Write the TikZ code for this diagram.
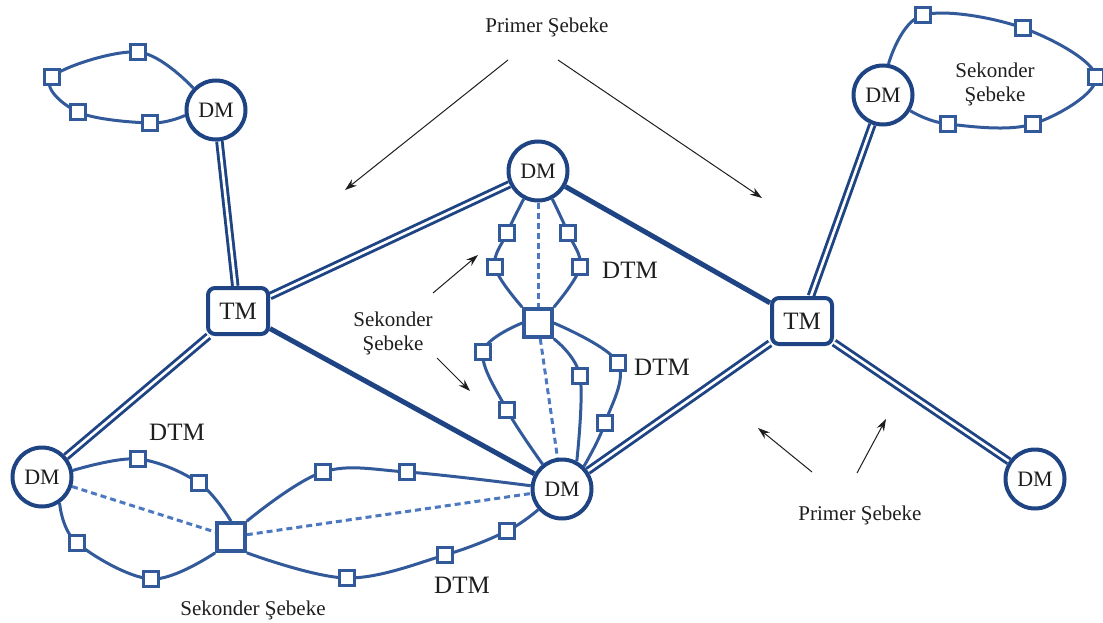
\documentclass[tikz,border=0pt]{standalone}
\usepackage{fontspec}
\setmainfont{Liberation Serif}
\usetikzlibrary{arrows.meta}
\pgfdeclarelayer{bg}
\pgfsetlayers{bg,main}
\definecolor{pblue}{RGB}{30,68,132}
\definecolor{sblue}{RGB}{50,90,154}
\definecolor{dblue}{RGB}{76,120,192}
\definecolor{ink}{RGB}{30,30,30}
\begin{document}
\begin{tikzpicture}[x=1pt,y=-1pt,
  dm/.style={circle, draw=pblue, line width=4pt, fill=white, minimum size=59pt, inner sep=0pt, text=ink, font=\fontsize{22}{22}\selectfont},
  tm/.style={rectangle, rounded corners=7pt, draw=pblue, line width=4pt, fill=white, minimum width=60pt, minimum height=46pt, text=ink, font=\fontsize{25}{25}\selectfont},
  bigsq/.style={rectangle, draw=sblue, line width=3.6pt, fill=white, minimum size=28pt, inner sep=0pt},
  smsq/.style={rectangle, draw=sblue, line width=3.2pt, fill=white, minimum size=15pt, inner sep=0pt},
  dbl/.style={draw=pblue, line width=2.9pt, double=white, double distance=2.6pt},
  thickone/.style={draw=pblue, line width=5pt},
  secl/.style={draw=sblue, line width=3pt},
  dsh/.style={draw=dblue, line width=3pt, dash pattern=on 6pt off 4pt},
  lbl/.style={font=\fontsize{21}{24}\selectfont, align=center, text=ink},
  dtm/.style={font=\fontsize{25}{25}\selectfont, text=ink},
  arr/.style={-{Stealth[length=12pt,width=8pt]}, line width=1pt, ink}
]
\useasboundingbox (0,0) rectangle (1103,623);

% main stations
\node[dm] (dmTL) at (216,110) {DM};
\node[dm] (dmC)  at (538,171) {DM};
\node[dm] (dmTR) at (883,95)  {DM};
\node[dm] (dmL)  at (42,477)  {DM};
\node[dm] (dmB)  at (562,489) {DM};
\node[dm] (dmBR) at (1035,479) {DM};
\node[tm] (tmL) at (238,311) {TM};
\node[tm] (tmR) at (802,321) {TM};
\node[bigsq] (sqC) at (538,323) {};
\node[bigsq] (sqB) at (231,537) {};

% distribution transformers
\foreach \n/\p in {a1/{(138,52)}, a2/{(52,77)}, a3/{(78,112)}, a4/{(150,123)},
  b1/{(923,15)}, b2/{(1023,28)}, b3/{(1096,77)}, b4/{(1033,124)}, b5/{(948,124)},
  c1/{(507,233)}, c2/{(495,267)}, c3/{(568,233)}, c4/{(580,267)},
  d1/{(483,352)}, d2/{(507,410)}, d3/{(580,376)}, d4/{(618,363)}, d5/{(605,423)},
  e1/{(138,459)}, e2/{(199,483)}, e3/{(77,543)}, e4/{(151,579)},
  f1/{(323,472)}, f2/{(407,472)}, f3/{(347,578)}, f4/{(445,555)}, f5/{(507,531)}}
  \node[smsq] (\n) at \p {};

% labels
\node[lbl] (pTop) at (547,27) {Primer Şebeke};
\node[lbl] (sTR) at (995,84) {Sekonder\\Şebeke};
\node[lbl] (sC) at (393,333) {Sekonder\\Şebeke};
\node[lbl] (pB) at (860,515) {Primer Şebeke};
\node[lbl] (sB) at (253,610) {Sekonder Şebeke};
\node[dtm] (t1) at (630,270) {DTM};
\node[dtm] (t2) at (662,367) {DTM};
\node[dtm] (t3) at (177,432) {DTM};
\node[dtm] (t4) at (462,585) {DTM};

% pointer arrows
\coordinate (r1s) at (508,60);  \coordinate (r1e) at (345,190);
\coordinate (r2s) at (558,60);  \coordinate (r2e) at (762,198);
\coordinate (r3s) at (433,293); \coordinate (r3e) at (478,255);
\coordinate (r4s) at (437,358); \coordinate (r4e) at (470,391);
\coordinate (r5s) at (812,472); \coordinate (r5e) at (758,428);
\coordinate (r6s) at (857,473); \coordinate (r6e) at (886,419);
\foreach \i in {1,...,6} \draw[arr] (r\i s) -- (r\i e);

\begin{pgfonlayer}{bg}
  % primary network
  \draw[dbl] (dmTL) -- (tmL);
  \draw[dbl] (tmL) -- (dmL);
  \draw[dbl] (tmL) -- (dmC);
  \draw[thickone] (tmL) -- (dmB);
  \draw[thickone] (dmC) -- (tmR);
  \draw[dbl] (tmR) -- (dmB);
  \draw[dbl] (tmR) -- (dmTR);
  \draw[dbl] (tmR) -- (dmBR);

  % secondary loops
  \draw[secl] plot[smooth, tension=0.6] coordinates {(dmTL.136) (a1.center) (a2.center) (a3.center) (a4.center) (dmTL.190)};
  \draw[secl] plot[smooth, tension=0.6] coordinates {(dmTR.80) (b1.center) (b2.center) (b3.center) (b4.center) (b5.center) (dmTR.-30)};
  \draw[secl] plot[smooth, tension=0.6] coordinates {(dmC.243) (c1.center) (c2.center) (sqC.north west)};
  \draw[secl] plot[smooth, tension=0.6] coordinates {(dmC.297) (c3.center) (c4.center) (sqC.north east)};
  \draw[secl] plot[smooth, tension=0.6] coordinates {(sqC.west) (d1.center) (d2.center) (dmB.128)};
  \draw[secl] plot[smooth, tension=0.6] coordinates {(sqC.south east) (d3.center) (dmB.62)};
  \draw[secl] plot[smooth, tension=0.6] coordinates {(sqC.east) (d4.center) (d5.center) (dmB.46)};
  \draw[secl] plot[smooth, tension=0.6] coordinates {(dmL.12) (e1.center) (e2.center) (sqB.north)};
  \draw[secl] plot[smooth, tension=0.6] coordinates {(dmL.-56) (e3.center) (e4.center) (sqB.south west)};
  \draw[secl] plot[smooth, tension=0.6] coordinates {(sqB.north east) (f1.center) (f2.center) (dmB.174)};
  \draw[secl] plot[smooth, tension=0.6] coordinates {(sqB.south east) (f3.center) (f4.center) (f5.center) (dmB.221)};

  % ties between stations
  \draw[dsh] (dmC) -- (sqC);
  \draw[dsh] (sqC) -- (dmB);
  \draw[dsh] (dmL) -- (sqB);
  \draw[dsh] (sqB) -- (dmB);
\end{pgfonlayer}
\end{tikzpicture}
\end{document}
